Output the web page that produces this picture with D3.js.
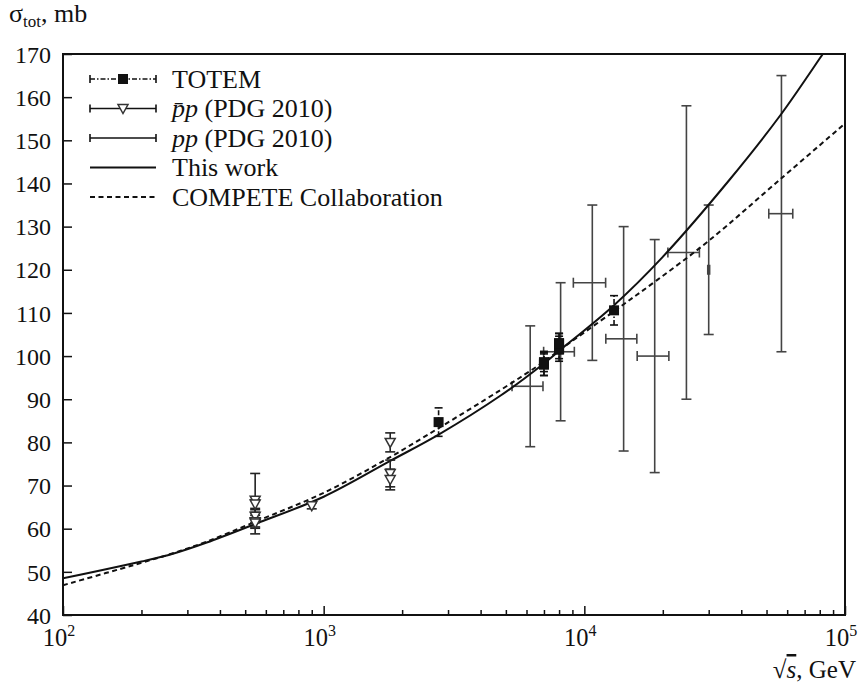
<!DOCTYPE html>
<html>
<head>
<meta charset="utf-8">
<script src="https://cdn.jsdelivr.net/npm/d3@7"></script>
<style>
  body { margin: 0; background: #fff; }
  svg { display: block; font-family: "Liberation Serif", "Times New Roman", serif; }
</style>
</head>
<body>
<svg width="861" height="685"></svg>
<script>
// TOTEM: [sqrt(s) GeV, sigma mb, error]
const totem = [
  [2760, 84.7, 3.3],
  [7000, 98.0, 2.5], [7000, 98.6, 2.2], [7000, 98.3, 2.8],
  [8000, 101.5, 2.1], [8000, 101.7, 2.9], [8000, 102.9, 2.3], [8000, 103.0, 2.3],
  [13000, 110.6, 3.4]
];
// pbar-p (PDG 2010): [sqrt(s), sigma, error]
const ppbar = [
  [546, 66.6, 6.2], [546, 65.7, 1.0], [546, 62.9, 1.5], [546, 61.6, 1.5], [546, 61.3, 2.5],
  [900, 65.3, 0.7],
  [1800, 80.0, 2.2], [1800, 72.8, 3.1], [1800, 71.4, 2.4]
];
// pp (PDG 2010), cosmic rays: [sqrt(s), low, high, sigma, low, high]
const pp = [
  [6200, 5280, 6940, 93, 79, 107],
  [8110, 6980, 9155, 101, 85, 117],
  [10730, 9075, 12070, 117, 99, 135],
  [14150, 12090, 15900, 104, 78, 130],
  [18620, 15950, 21100, 100, 73, 127],
  [24640, 20920, 27630, 124, 90, 158],
  [30000, 29750, 30250, 120, 105, 135],
  [57040, 51000, 63040, 133, 101, 165]
];
// curves
const thisWork = [
  [100, 48.5], [200, 52.4], [264, 54.2], [356, 56.8], [546, 61.1], [1000, 67.4],
  [1800, 75.7], [2760, 81.8], [4760, 90.8], [7000, 98.3], [8000, 101.2], [13000, 111.8],
  [20000, 123.0], [36000, 140.8], [56500, 155.8], [82200, 170.0], [86000, 171.7]
];
const compete = [
  [100, 46.9], [200, 52.1], [264, 54.3], [356, 57.0], [546, 61.6], [1000, 68.3],
  [1800, 76.6], [2760, 83.3], [4760, 92.1], [7000, 98.7], [8000, 101.3], [13000, 110.4],
  [19000, 117.6], [30000, 126.7], [56500, 141.0], [100000, 153.9]
];
const yTicks = d3.range(40, 171, 10);
const decades = [100, 1000, 10000, 100000];
const legendLabels = ["TOTEM", "PDG", "PDG", "This work", "COMPETE Collaboration"];

const svg = d3.select("svg");
const x = d3.scaleLog().domain([100, 100000]).range([63, 845]);
const y = d3.scaleLinear().domain([40, 170]).range([615, 54]);

svg.append("defs").append("clipPath").attr("id", "clip")
  .append("rect").attr("x", 63).attr("y", 54).attr("width", 782).attr("height", 561);

// y axis ticks (inward)
const yAxis = svg.append("g").attr("transform", "translate(63,0)")
  .call(d3.axisLeft(y).tickValues(yTicks).tickSize(-9).tickPadding(12).tickFormat(d3.format("d")));
yAxis.select(".domain").remove();
yAxis.selectAll("line").attr("stroke", "#111").attr("stroke-width", 1.5);
yAxis.selectAll("text").attr("font-size", 24).attr("fill", "#111")
  .attr("font-family", "Liberation Serif").attr("dy", "0.34em");

// x axis minor and major ticks
const minor = [];
decades.slice(0, 3).forEach(d => { for (let k = 2; k < 10; k++) minor.push(d * k); });
const xMinor = svg.append("g").attr("transform", "translate(0,615)")
  .call(d3.axisBottom(x).tickValues(minor).tickSize(-5).tickFormat(""));
xMinor.select(".domain").remove();
xMinor.selectAll("line").attr("stroke", "#111").attr("stroke-width", 1.5);
const xMajor = svg.append("g").attr("transform", "translate(0,615)")
  .call(d3.axisBottom(x).tickValues(decades).tickSize(-9).tickFormat(""));
xMajor.select(".domain").remove();
xMajor.selectAll("line").attr("stroke", "#111").attr("stroke-width", 1.5);

decades.forEach(d => {
  const t = svg.append("text").attr("x", x(d) - 4).attr("y", 646)
    .attr("text-anchor", "middle").attr("font-size", 24.5).attr("fill", "#111");
  t.append("tspan").text("10");
  t.append("tspan").attr("dy", -10).attr("font-size", 16).text(Math.log10(d));
});

// frame
svg.append("rect").attr("x", 63).attr("y", 54).attr("width", 782).attr("height", 561)
  .attr("fill", "none").attr("stroke", "#111").attr("stroke-width", 2);

// axis titles
const yt = svg.append("text").attr("x", 9).attr("y", 22).attr("font-size", 26).attr("fill", "#111");
yt.append("tspan").text("σ");
yt.append("tspan").attr("dy", 5).attr("font-size", 17).text("tot");
yt.append("tspan").attr("dy", -5).text(", mb");

const xt = svg.append("text").attr("x", 856).attr("y", 678).attr("text-anchor", "end")
  .attr("font-size", 25).attr("fill", "#111");
xt.append("tspan").text("√");
xt.append("tspan").attr("font-style", "italic").attr("text-decoration", "overline").text("s");
xt.append("tspan").text(", GeV");

const plot = svg.append("g").attr("clip-path", "url(#clip)");
const cap = 5;

// pp cosmic-ray points
const ppG = plot.append("g").attr("stroke", "#444").attr("stroke-width", 1.6).attr("fill", "none");
pp.forEach(d => {
  const cx = x(d[0]);
  ppG.append("line").attr("x1", cx).attr("x2", cx).attr("y1", y(d[4])).attr("y2", y(d[5]));
  ppG.append("line").attr("x1", cx - cap).attr("x2", cx + cap).attr("y1", y(d[4])).attr("y2", y(d[4]));
  ppG.append("line").attr("x1", cx - cap).attr("x2", cx + cap).attr("y1", y(d[5])).attr("y2", y(d[5]));
  const cy = y(d[3]);
  ppG.append("line").attr("x1", x(d[1])).attr("x2", x(d[2])).attr("y1", cy).attr("y2", cy);
  ppG.append("line").attr("x1", x(d[1])).attr("x2", x(d[1])).attr("y1", cy - cap).attr("y2", cy + cap);
  ppG.append("line").attr("x1", x(d[2])).attr("x2", x(d[2])).attr("y1", cy - cap).attr("y2", cy + cap);
});

// curves
const line = d3.line().x(d => x(d[0])).y(d => y(d[1])).curve(d3.curveCatmullRom.alpha(0.5));
plot.append("path").datum(compete).attr("d", line).attr("fill", "none")
  .attr("stroke", "#111").attr("stroke-width", 2).attr("stroke-dasharray", "5,3.5");
plot.append("path").datum(thisWork).attr("d", line).attr("fill", "none")
  .attr("stroke", "#111").attr("stroke-width", 2);

// pbar-p points
function triangle(g, cx, cy) {
  g.append("path").attr("d", `M${cx - 5},${cy - 4}L${cx + 5},${cy - 4}L${cx},${cy + 5}Z`)
    .attr("fill", "#fff").attr("stroke", "#333").attr("stroke-width", 1.5);
}
const pbG = plot.append("g").attr("stroke", "#222").attr("stroke-width", 1.6);
ppbar.forEach(d => {
  const cx = x(d[0]), lo = y(d[1] - d[2]), hi = y(d[1] + d[2]);
  pbG.append("line").attr("x1", cx).attr("x2", cx).attr("y1", lo).attr("y2", hi);
  pbG.append("line").attr("x1", cx - cap).attr("x2", cx + cap).attr("y1", lo).attr("y2", lo);
  pbG.append("line").attr("x1", cx - cap).attr("x2", cx + cap).attr("y1", hi).attr("y2", hi);
});
ppbar.forEach(d => triangle(plot, x(d[0]), y(d[1])));

// TOTEM points
const toG = plot.append("g").attr("stroke", "#111").attr("stroke-width", 1.6);
totem.forEach(d => {
  const cx = x(d[0]), lo = y(d[1] - d[2]), hi = y(d[1] + d[2]);
  toG.append("line").attr("x1", cx).attr("x2", cx).attr("y1", lo).attr("y2", hi)
    .attr("stroke-dasharray", "5,2,1.5,2");
  toG.append("line").attr("x1", cx - 4).attr("x2", cx + 4).attr("y1", lo).attr("y2", lo);
  toG.append("line").attr("x1", cx - 4).attr("x2", cx + 4).attr("y1", hi).attr("y2", hi);
});
plot.selectAll("rect.totem").data(totem).join("rect").attr("class", "totem")
  .attr("x", d => x(d[0]) - 5).attr("y", d => y(d[1]) - 5).attr("width", 10).attr("height", 10)
  .attr("fill", "#111");

// legend
const lg = svg.append("g");
const rowY = i => 79 + i * 29.5;
const x0 = 90, x1 = 156, xm = 123;
legendLabels.forEach((lab, i) => {
  const cy = rowY(i);
  const s = lg.append("line").attr("x1", x0).attr("x2", x1).attr("y1", cy).attr("y2", cy)
    .attr("stroke", "#111").attr("stroke-width", i < 3 ? 1.6 : 2);
  if (i === 0) s.attr("stroke-dasharray", "5,2,1.5,2");
  if (i === 4) s.attr("stroke-dasharray", "5,3.5");
  if (i < 3) {
    [x0, x1].forEach(xx => lg.append("line").attr("x1", xx).attr("x2", xx)
      .attr("y1", cy - 4).attr("y2", cy + 4).attr("stroke", "#111").attr("stroke-width", 1.6));
  }
  if (i === 0) lg.append("rect").attr("x", xm - 5).attr("y", cy - 5).attr("width", 10).attr("height", 10).attr("fill", "#111");
  if (i === 1) triangle(lg, xm, cy);
  const t = lg.append("text").attr("x", 172).attr("y", cy + 8.5).attr("font-size", 26).attr("fill", "#111");
  if (i === 1) {
    t.append("tspan").attr("font-style", "italic").text("p\u0304p");
    t.append("tspan").text(" (PDG 2010)");
  } else if (i === 2) {
    t.append("tspan").attr("font-style", "italic").text("pp");
    t.append("tspan").text(" (PDG 2010)");
  } else {
    t.text(lab);
  }
});
</script>
</body>
</html>
